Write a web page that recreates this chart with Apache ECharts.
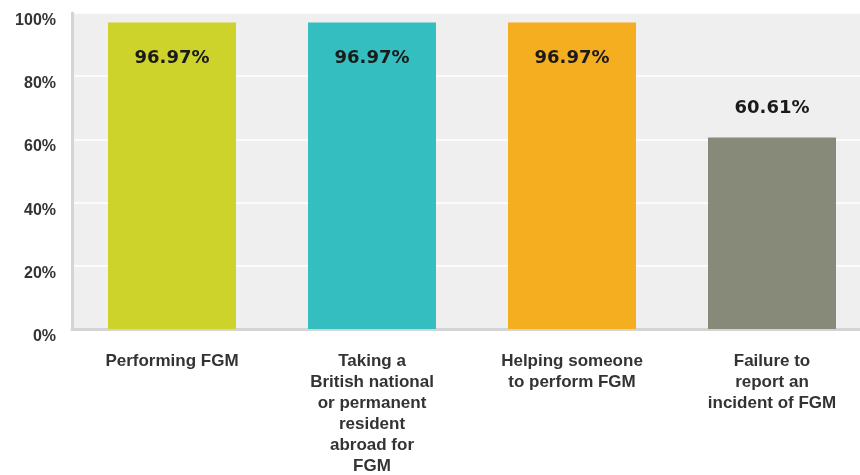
<!DOCTYPE html>
<html><head><meta charset="utf-8">
<script src="https://cdn.jsdelivr.net/npm/echarts@6/dist/echarts.min.js"></script>
<style>html,body{margin:0;padding:0;background:#fff}#c{width:860px;height:475px}</style>
</head><body><div id="c"></div>
<script>
var categories = [
  "Performing FGM",
  "Taking a\nBritish national\nor permanent\nresident\nabroad for\nFGM",
  "Helping someone\nto perform FGM",
  "Failure to\nreport an\nincident of FGM"
];
var values = [96.97, 96.97, 96.97, 60.61];
var barColors = ["#cdd32a", "#34bec0", "#f5ae1f", "#878a78"];
var yTicks = [0, 20, 40, 60, 80, 100];

var chart = echarts.init(document.getElementById('c'), null, {renderer: 'canvas'});
var data = values.map(function (v, i) {
  var inside = v > 80;
  return {
    value: v,
    itemStyle: {color: barColors[i]},
    label: {
      position: inside ? 'insideTop' : 'top',
      distance: inside ? 27 : 20
    }
  };
});
chart.setOption({
  animation: false,
  grid: {left: 72, top: 13, width: 800, height: 316, show: true, backgroundColor: '#efefef', borderWidth: 0, outerBoundsMode: 'none', containLabel: false},
  xAxis: {
    type: 'category', data: categories,
    axisLine: {show: true, lineStyle: {color: '#d4d4d4', width: 3}},
    axisTick: {show: false},
    axisLabel: {interval: 0, margin: 22, color: '#333', fontFamily: 'Liberation Sans, Arial', fontWeight: 'bold', fontSize: 17, lineHeight: 21}
  },
  yAxis: {
    type: 'value', min: 0, max: 100, interval: 20,
    axisLine: {show: true, lineStyle: {color: '#d4d4d4', width: 3}},
    axisTick: {show: false},
    splitLine: {lineStyle: {color: '#ffffff', width: 1.5}},
    axisLabel: {margin: 16, color: '#333', fontFamily: 'Liberation Sans, Arial', fontWeight: 'bold', fontSize: 16,
      verticalAlign: 'top', lineHeight: 15,
      formatter: function (v) { return yTicks.indexOf(v) >= 0 ? v + '%' : ''; }}
  },
  series: [{
    type: 'bar', data: data, barWidth: '64%',
    label: {show: true, color: '#1a1a1a', fontFamily: 'DejaVu Sans', fontSize: 18, fontWeight: 'bold',
      formatter: function (p) { return p.value.toFixed(2) + '%'; }}
  }]
});
</script></body></html>
